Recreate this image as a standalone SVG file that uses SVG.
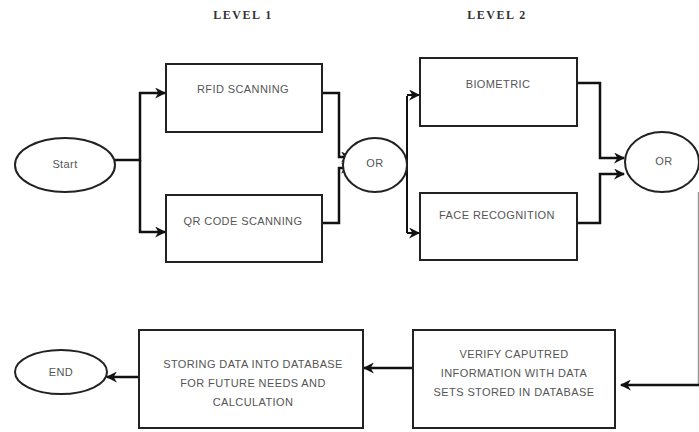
<svg xmlns="http://www.w3.org/2000/svg" width="699" height="432" viewBox="0 0 699 432">
<defs>
<style>
.box{fill:#fff;stroke:#222;stroke-width:2}
.ell{fill:#fff;stroke:#222;stroke-width:2}
.lbl{font-family:"Liberation Sans",Arial,sans-serif;font-size:11px;fill:#555;text-anchor:middle;letter-spacing:0.4px}
.lvl{font-family:"Liberation Serif","Times New Roman",serif;font-size:12px;font-weight:bold;fill:#333;text-anchor:middle;letter-spacing:1.5px}
.con{fill:none;stroke:#111;stroke-width:2.5;stroke-linejoin:miter}
.thin{fill:none;stroke:#111;stroke-width:2}
.faint{fill:none;stroke:#999;stroke-width:1.5}
</style>
<marker id="ah" viewBox="0 0 10 10" refX="9" refY="5" markerWidth="11" markerHeight="11" markerUnits="userSpaceOnUse" orient="auto">
<path d="M0,0 L10,5 L0,10 L3,5 Z" fill="#111"/>
</marker>
</defs>
<rect width="699" height="432" fill="#fff"/>
<text class="lvl" x="243" y="19">LEVEL 1</text>
<text class="lvl" x="497" y="19">LEVEL 2</text>
<g id="connectors">
<path class="con" d="M115,160 H140 V93 H165" marker-end="url(#ah)"/>
<path class="con" d="M140,160 V232 H165" marker-end="url(#ah)"/>
<path class="con" d="M322,93 H339 V157 H351" marker-end="url(#ah)"/>
<path class="con" d="M322,223 H339 V168 H351" marker-end="url(#ah)"/>
<path class="thin" d="M395,158 H407"/>
<path class="thin" d="M400,170 H407"/>
<path class="thin" d="M407,96 V233"/>
<path class="thin" d="M407,95 H419" marker-end="url(#ah)"/>
<path class="thin" d="M407,233 H419" marker-end="url(#ah)"/>
<path class="con" d="M577,83 H600 V158 H624" marker-end="url(#ah)"/>
<path class="con" d="M577,223 H600 V174 H624" marker-end="url(#ah)"/>
<path class="faint" d="M698.5,192 V385"/>
<path class="con" d="M700,385 H621" marker-end="url(#ah)"/>
<path class="con" d="M413,368 H364" marker-end="url(#ah)"/>
<path class="con" d="M139,377 H107" marker-end="url(#ah)"/>
</g>
<g id="start">
<ellipse class="ell" cx="65" cy="165" rx="50" ry="27"/>
<text class="lbl" x="65" y="168">Start</text>
</g>
<g id="rfid">
<rect class="box" x="166" y="64" width="156" height="68"/>
<text class="lbl" x="243" y="93">RFID SCANNING</text>
</g>
<g id="qr">
<rect class="box" x="166" y="195" width="156" height="67"/>
<text class="lbl" x="243" y="225">QR CODE SCANNING</text>
</g>
<g id="or1">
<ellipse class="ell" cx="375" cy="165" rx="32" ry="27"/>
<text class="lbl" x="375" y="167">OR</text>
</g>
<g id="biometric">
<rect class="box" x="420" y="58" width="157" height="68"/>
<text class="lbl" x="498" y="88">BIOMETRIC</text>
</g>
<g id="face">
<rect class="box" x="420" y="193" width="157" height="67"/>
<text class="lbl" x="497" y="219">FACE RECOGNITION</text>
</g>
<g id="or2">
<ellipse class="ell" cx="662" cy="162" rx="37" ry="30"/>
<text class="lbl" x="664" y="165">OR</text>
</g>
<g id="verify">
<rect class="box" x="413" y="330" width="202" height="98"/>
<text class="lbl" x="514" y="358">VERIFY CAPUTRED</text>
<text class="lbl" x="514" y="377">INFORMATION WITH DATA</text>
<text class="lbl" x="514" y="396">SETS STORED IN DATABASE</text>
</g>
<g id="storing">
<rect class="box" x="139" y="330" width="224" height="98"/>
<text class="lbl" x="253" y="368">STORING DATA INTO DATABASE</text>
<text class="lbl" x="253" y="387">FOR FUTURE NEEDS AND</text>
<text class="lbl" x="253" y="406">CALCULATION</text>
</g>
<g id="end">
<ellipse class="ell" cx="61" cy="372" rx="46" ry="22"/>
<text class="lbl" x="61" y="376">END</text>
</g>
</svg>
